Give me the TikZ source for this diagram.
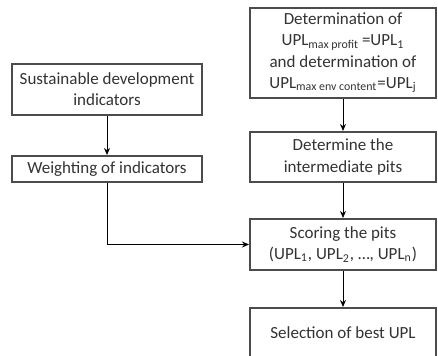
\documentclass[tikz,border=0pt]{standalone}
\usepackage{fontspec}
\setmainfont{Carlito}
\usetikzlibrary{positioning, arrows.meta}

\begin{document}
\begin{tikzpicture}[
    x=0.5pt, y=-0.5pt,
    font=\fontsize{8.5}{10.6}\selectfont,
    stepbox/.style={draw=black!70, fill=white, line width=1pt, align=center,
                    text=black!80, inner sep=2pt, minimum width=93pt},
    link/.style={-{Stealth[length=3.5pt, width=3pt]}, draw=black, line width=0.5pt}
]
\useasboundingbox (0,0) rectangle (438,356);
% right column
\node[stepbox, minimum height=45pt] (upl) at (343,53)
  {Determination of\\UPL\textsubscript{max profit}\,=UPL\textsubscript{1}\\and determination of\\UPL\textsubscript{max env content}=UPL\textsubscript{j}};
\node[stepbox, minimum height=25pt] (inter) at (343,157) {Determine the\\intermediate pits};
\node[stepbox, minimum height=25.5pt] (score) at (343,244.5) {Scoring the pits\\(UPL\textsubscript{1}, UPL\textsubscript{2}, \dots, UPL\textsubscript{n})};
\node[stepbox, minimum height=25pt] (best) at (343,333) {Selection of best UPL};
% left column
\node[stepbox, minimum width=95pt, minimum height=25.5pt] (sdi) at (107,89.5) {Sustainable development\\indicators};
\node[stepbox, minimum width=95pt, minimum height=13pt] (weight) at (107,169) {Weighting of indicators};
\draw[link] (upl) -- (inter);
\draw[link] (inter) -- (score);
\draw[link] (score) -- (best);
\draw[link] (sdi) -- (weight);
\draw[link] (weight.south) |- (score.west);
\end{tikzpicture}
\end{document}
